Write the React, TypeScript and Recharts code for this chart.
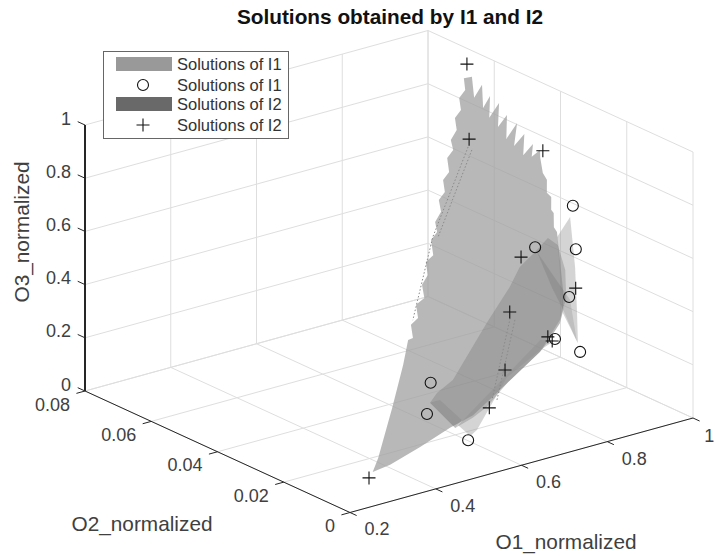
import React from 'react'
import { ScatterChart, Scatter, XAxis, YAxis } from 'recharts'

const FONT = '"Liberation Sans", Arial, sans-serif'

// tick values of the three axes
const o1Ticks = [0.2, 0.4, 0.6, 0.8, 1]
const o2Ticks = [0, 0.02, 0.04, 0.06, 0.08]
const o3Ticks = [0, 0.2, 0.4, 0.6, 0.8, 1]
const o1TickLabels = ['0.2', '0.4', '0.6', '0.8', '1']
const o2TickLabels = ['0', '0.02', '0.04', '0.06', '0.08']
const o3TickLabels = ['0', '0.2', '0.4', '0.6', '0.8', '1']

// markers, as [O1, O2, O3]
const solutionsI1: number[][] = [
  [0.984, 0.0342, 0.61], [0.943, 0.028, 0.5], [0.862, 0.0298, 0.533],
  [0.878, 0.0216, 0.386], [0.804, 0.0163, 0.291], [0.841, 0.0135, 0.242],
  [0.504, 0.015, 0.267], [0.463, 0.0108, 0.192], [0.518, 0.0055, 0.099],
]
const solutionsI2: number[][] = [
  [0.961, 0.0632, 0.987], [0.844, 0.0474, 0.847], [0.982, 0.043, 0.767],
  [0.823, 0.029, 0.518], [0.741, 0.0218, 0.389], [0.901, 0.0226, 0.403],
  [0.792, 0.0169, 0.301], [0.796, 0.0161, 0.288], [0.669, 0.0139, 0.248],
  [0.596, 0.0092, 0.165], [0.276, 0.0041, 0.073],
]

// surface of I1, outline with the saw teeth along the mesh edge
const surfaceI1: number[][] = [
  [0.29, 0.0048, 0.085], [0.316, 0.0065, 0.116], [0.398, 0.0129, 0.231], [0.467, 0.0185, 0.331],
  [0.504, 0.0218, 0.389], [0.516, 0.0219, 0.391], [0.526, 0.0238, 0.425], [0.548, 0.0245, 0.437],
  [0.558, 0.0264, 0.471], [0.582, 0.027, 0.483], [0.592, 0.029, 0.517], [0.614, 0.0301, 0.537],
  [0.624, 0.032, 0.571], [0.646, 0.0326, 0.583], [0.658, 0.0348, 0.622], [0.679, 0.0357, 0.638],
  [0.686, 0.0372, 0.664], [0.709, 0.0384, 0.685], [0.717, 0.0401, 0.716], [0.738, 0.041, 0.732],
  [0.747, 0.0427, 0.763], [0.768, 0.0436, 0.779], [0.779, 0.0456, 0.815], [0.8, 0.0465, 0.831],
  [0.806, 0.048, 0.857], [0.829, 0.0492, 0.878], [0.838, 0.0509, 0.909], [0.859, 0.0518, 0.925],
  [0.868, 0.0535, 0.956], [0.889, 0.0544, 0.972], [0.899, 0.0561, 1.002], [0.917, 0.056, 1],
  [0.899, 0.053, 0.946], [0.929, 0.0545, 0.973], [0.906, 0.0512, 0.915], [0.933, 0.0526, 0.94],
  [0.908, 0.0496, 0.886], [0.944, 0.0513, 0.916], [0.916, 0.048, 0.857], [0.947, 0.0493, 0.881],
  [0.92, 0.046, 0.822], [0.959, 0.0478, 0.854], [0.928, 0.0447, 0.799], [0.962, 0.046, 0.822],
  [0.937, 0.0431, 0.77], [0.969, 0.0443, 0.791], [0.953, 0.0426, 0.76], [0.977, 0.0432, 0.771],
  [0.969, 0.0421, 0.752], [0.958, 0.0399, 0.712], [0.959, 0.0388, 0.692], [0.945, 0.037, 0.66],
  [0.949, 0.0362, 0.647], [0.935, 0.0344, 0.615], [0.937, 0.0339, 0.605], [0.922, 0.0319, 0.57],
  [0.923, 0.0311, 0.556], [0.908, 0.0286, 0.51], [0.873, 0.0228, 0.407], [0.852, 0.02, 0.358],
  [0.831, 0.0183, 0.327], [0.783, 0.016, 0.286], [0.76, 0.0151, 0.269], [0.659, 0.012, 0.214],
  [0.555, 0.0088, 0.158], [0.495, 0.008, 0.142], [0.413, 0.0064, 0.115], [0.333, 0.0051, 0.091],
]
const fanRightI1: number[][] = [
  [0.966, 0.0327, 0.584], [0.922, 0.0255, 0.456], [0.88, 0.0195, 0.348],
  [0.846, 0.0148, 0.265], [0.848, 0.0196, 0.35], [0.918, 0.0304, 0.543],
]
const fanLowerI1: number[][] = [
  [0.514, 0.008, 0.143], [0.527, 0.006, 0.108], [0.547, 0.0066, 0.118], [0.598, 0.0093, 0.166],
  [0.665, 0.0128, 0.229], [0.762, 0.0153, 0.274], [0.803, 0.0161, 0.288], [0.773, 0.0167, 0.299],
]

// surface of I2
const surfaceI2: number[][] = [
  [0.481, 0.0122, 0.218], [0.505, 0.0077, 0.138], [0.552, 0.0085, 0.151], [0.593, 0.0095, 0.169],
  [0.659, 0.012, 0.214], [0.76, 0.0151, 0.269], [0.835, 0.0188, 0.335], [0.855, 0.0204, 0.365],
  [0.869, 0.0213, 0.381], [0.899, 0.0255, 0.456], [0.911, 0.0293, 0.523], [0.898, 0.0306, 0.547],
  [0.857, 0.0292, 0.521], [0.81, 0.0277, 0.494], [0.768, 0.0253, 0.451], [0.683, 0.0212, 0.378],
  [0.552, 0.0145, 0.259], [0.506, 0.0133, 0.238],
]
const slabUpperI2: number[][] = [
  [0.861, 0.0291, 0.52], [0.877, 0.0212, 0.378], [0.852, 0.02, 0.358], [0.853, 0.0235, 0.42],
]
const slabLowerI2: number[][] = [
  [0.481, 0.0122, 0.218], [0.505, 0.0077, 0.138], [0.527, 0.0086, 0.153], [0.504, 0.0122, 0.218],
]
const slabTipI2: number[][] = [
  [0.852, 0.02, 0.358], [0.846, 0.0151, 0.269], [0.877, 0.0212, 0.378],
]

// thin mesh folds that show up as dotted lines
const foldUpperA: number[][] = [[0.834, 0.0464, 0.828], [0.665, 0.0352, 0.628], [0.535, 0.0244, 0.435]]
const foldUpperB: number[][] = [[0.838, 0.0458, 0.818], [0.676, 0.035, 0.625]]
const foldLowerA: number[][] = [[0.735, 0.0209, 0.374], [0.61, 0.0102, 0.183]]
const foldLowerB: number[][] = [[0.743, 0.0205, 0.366], [0.62, 0.01, 0.179]]

// view of the box: where O1/O2/O3 end up on the flat chart plane
const project = ([o1, o2, o3]: number[]) => {
  const a = (o1 - 0.2) / 0.8
  const b = o2 / 0.08
  return {
    u: 350 + 343 * a - 265 * b,
    v: 512.5 - 94.5 * a - 121.5 * b - 266 * o3,
  }
}
const toPlane = (rows: number[][]) => rows.map(project)

const noMark = () => null

const surface = (rows: number[][], fill: string, opacity: number) => (
  <Scatter
    data={toPlane(rows)}
    dataKey="v"
    shape={noMark}
    isAnimationActive={false}
    line={{ fill, fillOpacity: opacity, stroke: 'none' }}
  />
)

// polyline in data space
const trace = (rows: number[][], color: string, width = 1, dash?: string) => (
  <Scatter
    data={toPlane(rows)}
    dataKey="v"
    shape={noMark}
    isAnimationActive={false}
    line={{ stroke: color, strokeWidth: width, strokeDasharray: dash }}
  />
)

const Ring = ({ cx, cy }: any) => <circle cx={cx} cy={cy} r={5.5} fill="none" stroke="#111" strokeWidth={1.1} />
const Plus = ({ cx, cy }: any) => (
  <path d={`M${cx - 6.5} ${cy}H${cx + 6.5}M${cx} ${cy - 6.5}V${cy + 6.5}`} stroke="#111" strokeWidth={1.1} />
)

const textMark = (size: number, color: string, anchor = 'middle', weight = 'normal') => ({ cx, cy, payload }: any) => (
  <text
    x={cx}
    y={cy}
    textAnchor={anchor}
    dominantBaseline="central"
    fontFamily={FONT}
    fontSize={size}
    fontWeight={weight}
    fill={color}
    transform={payload.rotate ? `rotate(${payload.rotate} ${cx} ${cy})` : undefined}
  >
    {payload.label}
  </text>
)

// label anchors sit a fixed offset away from the tick in data space
// the last O1 label is nudged in so it stays on the page
const o1Labels = o1Ticks.map((t, i) => ({ ...project([t === 1 ? 0.992 : t, -0.0044, -0.0387]), label: o1TickLabels[i] }))
const o2Labels = o2Ticks.map((t, i) => ({ ...project([0.165, t, -0.0353]), label: o2TickLabels[i] }))
const o3Labels = o3Ticks.map((t, i) => ({ ...project([0.2, 0.0842, t]), label: o3TickLabels[i] }))

const titles = [{ u: 390, v: 16, label: 'Solutions obtained by I1 and I2' }]
const axisTitles = [
  { u: 142, v: 523, label: 'O2_normalized' },
  { u: 566, v: 541, label: 'O1_normalized' },
  { u: 21, v: 232, label: 'O3_normalized', rotate: -90 },
]

const legendRows = [
  { kind: 'patch', color: '#999999', text: 'Solutions of I1' },
  { kind: 'ring', text: 'Solutions of I1' },
  { kind: 'patch', color: '#696969', text: 'Solutions of I2' },
  { kind: 'plus', text: 'Solutions of I2' },
]

const LegendBox = () => (
  <div
    style={{
      position: 'absolute', left: 103, top: 51, width: 184, height: 86,
      background: '#fff', border: '1.5px solid #666', fontFamily: FONT, fontSize: 16.5, color: '#333',
    }}
  >
    {legendRows.map((row, i) => (
      <div key={i} style={{ position: 'absolute', left: 0, top: [2, 23, 42, 63][i], height: 20, width: 184 }}>
        <svg width={70} height={20} style={{ position: 'absolute', left: 0, top: 0 }}>
          {row.kind === 'patch' && <rect x={12} y={3} width={56} height={14} fill={row.color} />}
          {row.kind === 'ring' && <circle cx={39} cy={10} r={5.5} fill="none" stroke="#111" strokeWidth={1.1} />}
          {row.kind === 'plus' && <path d="M32.5 10H45.5M39 3.5V16.5" stroke="#111" strokeWidth={1.1} />}
        </svg>
        <span style={{ position: 'absolute', left: 73, top: 0, lineHeight: '20px', whiteSpace: 'nowrap' }}>{row.text}</span>
      </div>
    ))}
  </div>
)

const GRID = '#dedede'
const AXIS = '#262626'

export default function App() {
  document.body.style.margin = '0'

  return (
    <div style={{ position: 'relative', width: 715, height: 556, background: '#fff' }}>
      <ScatterChart width={715} height={556} margin={{ top: 0, right: 0, bottom: 0, left: 0 }}>
        <XAxis type="number" dataKey="u" domain={[0, 715]} allowDataOverflow hide />
        <YAxis type="number" dataKey="v" domain={[0, 556]} allowDataOverflow reversed hide />

        {/* grid on the floor and the two back walls */}
        {o1Ticks.map(t => trace([[t, 0, 0], [t, 0.08, 0]], GRID))}
        {o2Ticks.map(t => trace([[0.2, t, 0], [1, t, 0]], GRID))}
        {o1Ticks.map(t => trace([[t, 0.08, 0], [t, 0.08, 1]], GRID))}
        {o3Ticks.map(t => trace([[0.2, 0.08, t], [1, 0.08, t]], GRID))}
        {o2Ticks.map(t => trace([[1, t, 0], [1, t, 1]], GRID))}
        {o3Ticks.map(t => trace([[1, 0, t], [1, 0.08, t]], GRID))}

        {surface(fanLowerI1, '#a0a0a0', 0.45)}
        {surface(fanRightI1, '#a0a0a0', 0.45)}
        {surface(surfaceI1, '#a0a0a0', 0.75)}
        {surface(surfaceI2, '#707070', 0.32)}
        {surface(slabUpperI2, '#606060', 0.2)}
        {surface(slabLowerI2, '#606060', 0.15)}
        {surface(slabTipI2, '#808080', 0.25)}
        {trace(foldUpperA, '#8a8a8a', 1, '1.5 2')}
        {trace(foldUpperB, '#8a8a8a', 1, '1.5 2')}
        {trace(foldLowerA, '#8a8a8a', 1, '1.5 2')}
        {trace(foldLowerB, '#8a8a8a', 1, '1.5 2')}

        {/* axes */}
        {trace([[0.2, 0, 0], [1, 0, 0]], AXIS)}
        {trace([[0.2, 0, 0], [0.2, 0.08, 0]], AXIS)}
        {trace([[0.2, 0.08, 0], [0.2, 0.08, 1]], AXIS, 2)}
        {o1Ticks.map(t => trace([[t, 0, 0], [t, -0.002, 0]], AXIS))}
        {o2Ticks.map(t => trace([[0.2, t, 0], [0.18, t, 0]], AXIS))}
        {o3Ticks.map(t => trace([[0.2, 0.08, t], [0.2, 0.0822, t]], AXIS))}

        <Scatter data={toPlane(solutionsI1)} dataKey="v" shape={Ring} isAnimationActive={false} />
        <Scatter data={toPlane(solutionsI2)} dataKey="v" shape={Plus} isAnimationActive={false} />

        <Scatter data={o1Labels} dataKey="v" shape={textMark(18, '#404040', 'start')} isAnimationActive={false} />
        <Scatter data={o2Labels} dataKey="v" shape={textMark(18, '#404040', 'end')} isAnimationActive={false} />
        <Scatter data={o3Labels} dataKey="v" shape={textMark(18, '#404040', 'end')} isAnimationActive={false} />
        <Scatter data={axisTitles} dataKey="v" shape={textMark(20.8, '#404040')} isAnimationActive={false} />
        <Scatter data={titles} dataKey="v" shape={textMark(20.8, '#111', 'middle', 'bold')} isAnimationActive={false} />
      </ScatterChart>
      <LegendBox />
    </div>
  )
}
